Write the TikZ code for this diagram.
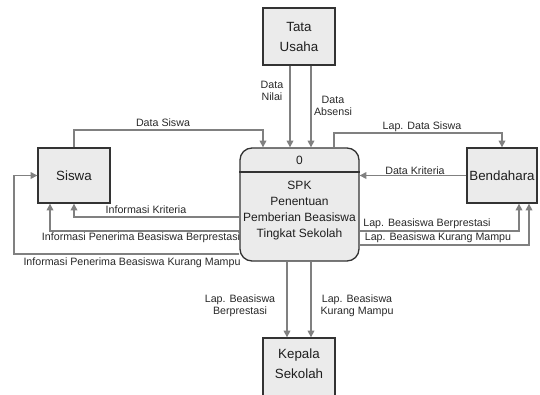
\documentclass[tikz,border=0pt]{standalone}
\usepackage{fontspec}
\setmainfont{Liberation Sans}
\usetikzlibrary{arrows.meta}

\begin{document}
\begin{tikzpicture}[x=0.75pt,y=0.75pt,yscale=-1,xscale=1,
  entity/.style={draw={rgb, 255:red, 51; green, 51; blue, 51 },line width=1pt,fill={rgb, 255:red, 235; green, 235; blue, 235 },inner sep=0pt,minimum width=54pt,minimum height=41.25pt,align=center,text={rgb, 255:red, 30; green, 30; blue, 30 },font=\fontsize{10}{15}\selectfont},
  process/.style={entity,rounded corners=9pt,minimum width=89.25pt,minimum height=84.75pt},
  ptext/.style={inner sep=0pt,align=center,text={rgb, 255:red, 30; green, 30; blue, 30 },font=\fontsize{9}{12}\selectfont},
  flow/.style={draw={rgb, 255:red, 128; green, 128; blue, 128 },line width=0.9pt,-{Triangle[length=5pt,width=5pt]}},
  lbl/.style={inner sep=0pt,align=center,text={rgb, 255:red, 40; green, 40; blue, 40 },font=\fontsize{8}{9}\selectfont}]
\useasboundingbox (0,0) rectangle (540,394);

%Shape: Rectangle
\node [entity,minimum height=42.75pt] (tu) at (299,36.5) {Tata\\Usaha};
%Shape: Rectangle
\node [entity] (siswa) at (74,175.5) {Siswa};
%Shape: Rectangle
\node [entity,minimum width=52.5pt] (bend) at (502,175.5) {Bendahara};
%Shape: Rectangle
\node [entity,minimum height=45pt] (kepala) at (299,368) {};
\node [entity,draw=none,fill=none] (kepalaTxt) at (299,364) {Kepala\\Sekolah};
%Rounded Rect
\node [process] (spk) at (299.5,204.5) {};
\coordinate (div) at (0,172);
\draw [draw={rgb, 255:red, 51; green, 51; blue, 51 },line width=1pt] (spk.west |- div) -- (spk.east |- div);
\node [ptext] (spkNo) at (299.5,160) {0};
\node [ptext] (spkTxt) at (299.5,211) {SPK\\Penentuan\\Pemberian Beasiswa\\Tingkat Sekolah};

%bend points
\coordinate (nilai) at (290,100);
\coordinate (absen) at (311,100);
\coordinate (ds) at (263,130);
\coordinate (lds) at (334,133);
\coordinate (lbb) at (519,231);
\coordinate (lbk) at (529,245);
\coordinate (ik) at (74,217);
\coordinate (ib) at (50,231);
\coordinate (ikm) at (14,254);
\coordinate (kb) at (287,300);
\coordinate (kk) at (311,300);

%Straight Lines
\draw [flow] (tu.south -| nilai) -- (spk.north -| nilai);
\draw [flow] (tu.south -| absen) -- (spk.north -| absen);
\draw [flow] (siswa.north) |- (ds) -- (ds |- spk.north);
\draw [flow] (lds |- spk.north) -- (lds) -| (bend.north);
\draw [flow] (bend.west) -- (bend.west -| spk.east);
\draw [flow] (lbb -| spk.east) -- (lbb) -- (lbb |- bend.south);
\draw [flow] (lbk -| spk.east) -- (lbk) -- (lbk |- bend.south);
\draw [flow] (ik -| spk.west) -- (ik) -- (ik |- siswa.south);
\draw [flow] (ib -| spk.west) -- (ib) -- (ib |- siswa.south);
\draw [flow] (ikm -| spk.west) -- (ikm) |- (siswa.west);
\draw [flow] (kb |- spk.south) -- (kb |- kepala.north);
\draw [flow] (kk |- spk.south) -- (kk |- kepala.north);

%Labels
\node [lbl] (lNilai) at (272,90.5) {Data\\Nilai};
\node [lbl] (lAbsen) at (333,106) {Data\\Absensi};
\node [lbl] (lDataSiswa) at (163,123) {Data Siswa};
\node [lbl] (lLapDataSiswa) at (422,127) {Lap. Data Siswa};
\node [lbl] (lKriteria) at (415,171) {Data Kriteria};
\node [lbl] (lLapBerp) at (427,224) {Lap. Beasiswa Berprestasi};
\node [lbl] (lLapKurang) at (438,238) {Lap. Beasiswa Kurang Mampu};
\node [lbl] (lInfoKrit) at (146,210) {Informasi Kriteria};
\node [lbl] (lInfoBerp) at (141,238) {Informasi Penerima Beasiswa Berprestasi};
\node [lbl] (lInfoKurang) at (132,263) {Informasi Penerima Beasiswa Kurang Mampu};
\node [lbl] (lKepBerp) at (240,306) {Lap. Beasiswa\\Berprestasi};
\node [lbl] (lKepKurang) at (357,306) {Lap. Beasiswa\\Kurang Mampu};

\end{tikzpicture}
\end{document}
